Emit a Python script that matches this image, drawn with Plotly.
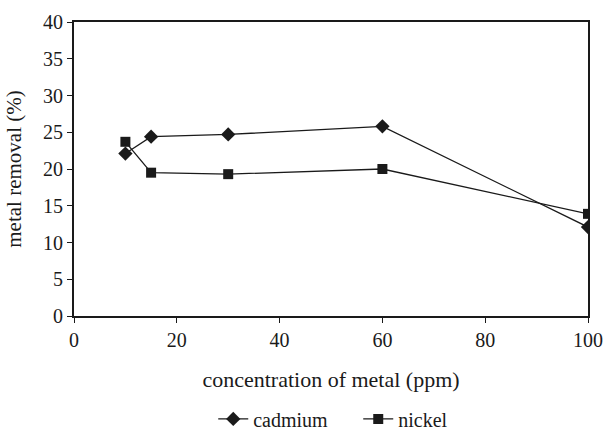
import plotly.graph_objects as go

conc = [10, 15, 30, 60, 100]
cadmium = [22.1, 24.4, 24.7, 25.8, 12.1]
nickel = [23.7, 19.5, 19.3, 20.0, 13.9]

font = "Times New Roman, Liberation Serif, serif"

fig = go.Figure()
fig.add_trace(go.Scatter(x=conc, y=cadmium, name="cadmium", mode="lines+markers",
                         line=dict(color="#1a1a1a", width=1.3),
                         marker=dict(symbol="diamond", size=11, color="#1a1a1a")))
fig.add_trace(go.Scatter(x=conc, y=nickel, name="nickel", mode="lines+markers",
                         line=dict(color="#1a1a1a", width=1.3),
                         marker=dict(symbol="square", size=10, color="#1a1a1a")))

fig.update_layout(
    width=603, height=432,
    margin=dict(l=74, r=15, t=22, b=116, autoexpand=False),
    paper_bgcolor="white", plot_bgcolor="white",
    font=dict(family=font, size=18, color="#1a1a1a"),
    showlegend=True,
    legend=dict(orientation="h", x=0.553, xanchor="center", y=-0.35, yanchor="middle",
                font=dict(family=font, size=20), itemwidth=30, traceorder="normal",
                entrywidth=100, entrywidthmode="pixels"),
    xaxis=dict(range=[0, 100], tickvals=[0, 20, 40, 60, 80, 100], showgrid=False,
               zeroline=False, showline=True, linecolor="#1a1a1a", linewidth=2,
               mirror=True, ticks="outside", ticklen=5, tickcolor="#1a1a1a",
               tickfont=dict(family=font, size=20), automargin=False,
               title=dict(text="concentration of metal (ppm)", font=dict(family=font, size=22), standoff=22)),
    yaxis=dict(range=[0, 40], tickvals=[0, 5, 10, 15, 20, 25, 30, 35, 40], showgrid=False,
               zeroline=False, showline=True, linecolor="#1a1a1a", linewidth=2,
               mirror=True, ticks="outside", ticklen=5, tickcolor="#1a1a1a",
               tickfont=dict(family=font, size=20), automargin=False,
               title=dict(text="metal removal (%)", font=dict(family=font, size=21), standoff=16)),
)

fig.write_html("out.html")
